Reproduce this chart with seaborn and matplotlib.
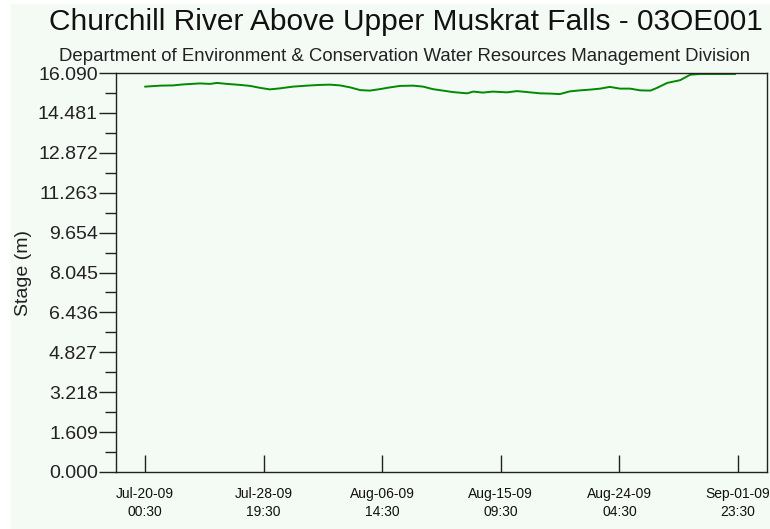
import numpy as np
import pandas as pd
import matplotlib
matplotlib.use("Agg")
import matplotlib.pyplot as plt
import matplotlib.dates as mdates
from matplotlib.patches import Rectangle
from matplotlib.ticker import FixedLocator, FuncFormatter
import seaborn as sns

# stage readings
times = [
    "2009-07-20 00:30", "2009-07-21 03:30", "2009-07-22 02:30", "2009-07-22 20:30",
    "2009-07-24 02:30", "2009-07-24 20:30", "2009-07-25 08:30", "2009-07-26 02:30",
    "2009-07-27 01:30", "2009-07-27 19:30", "2009-07-28 13:30", "2009-07-29 06:30",
    "2009-07-30 00:30", "2009-07-30 23:30", "2009-08-01 00:30", "2009-08-01 23:30",
    "2009-08-02 17:30", "2009-08-03 11:30", "2009-08-04 05:30", "2009-08-04 23:30",
    "2009-08-05 16:30", "2009-08-06 10:30", "2009-08-07 04:30", "2009-08-07 22:30",
    "2009-08-08 21:30", "2009-08-09 15:30", "2009-08-10 08:30", "2009-08-11 02:30",
    "2009-08-11 20:30", "2009-08-12 21:30", "2009-08-13 08:30", "2009-08-14 01:30",
    "2009-08-14 19:30", "2009-08-15 20:30", "2009-08-16 14:30", "2009-08-17 13:30",
    "2009-08-18 07:30", "2009-08-19 01:30", "2009-08-19 18:30", "2009-08-20 12:30",
    "2009-08-21 06:30", "2009-08-22 00:30", "2009-08-22 18:30", "2009-08-23 11:30",
    "2009-08-24 05:30", "2009-08-24 23:30", "2009-08-25 17:30", "2009-08-26 11:30",
    "2009-08-26 23:30", "2009-08-27 17:30", "2009-08-28 16:30", "2009-08-29 10:30",
    "2009-08-30 03:30", "2009-08-31 15:30", "2009-09-01 18:30",
]
stage = [
    15.54, 15.58, 15.59, 15.63, 15.67, 15.65, 15.69, 15.65,
    15.61, 15.57, 15.49, 15.43, 15.47, 15.54, 15.58, 15.61,
    15.62, 15.59, 15.51, 15.40, 15.38, 15.44, 15.51, 15.57,
    15.58, 15.54, 15.44, 15.38, 15.32, 15.27, 15.34, 15.30,
    15.34, 15.31, 15.36, 15.31, 15.27, 15.26, 15.24, 15.35,
    15.39, 15.42, 15.46, 15.53, 15.46, 15.46, 15.39, 15.38,
    15.49, 15.69, 15.80, 16.02, 16.05, 16.05, 16.05,
]
tick_times = ["2009-07-20 00:30", "2009-07-28 19:30", "2009-08-06 14:30",
              "2009-08-15 09:30", "2009-08-24 04:30", "2009-09-01 23:30"]
tick_labels = ["Jul-20-09\n00:30", "Jul-28-09\n19:30", "Aug-06-09\n14:30",
               "Aug-15-09\n09:30", "Aug-24-09\n04:30", "Sep-01-09\n23:30"]
y_step = 1.609
y_max = 16.090

df = pd.DataFrame({"time": pd.to_datetime(times), "stage": stage})
ticks = pd.to_datetime(tick_times)

sns.set_style("ticks")
plt.rcParams["font.family"] = ["Liberation Sans", "DejaVu Sans"]

bg = "#F4FAF4"
fig = plt.figure(figsize=(7.7, 5.29), dpi=100, facecolor="white")
fig.patches.append(Rectangle((11 / 770, 0), 1, 1 - 4 / 529, transform=fig.transFigure,
                             facecolor=bg, edgecolor="none", zorder=-10))
ax = fig.add_axes([116 / 770, 57 / 529, 651 / 770, 399 / 529])
ax.set_facecolor(bg)

sns.lineplot(data=df, x="time", y="stage", ax=ax, color="#008A00", linewidth=1.4)

pad = pd.Timedelta(hours=51.6)
ax.set_xlim(ticks[0] - pad, ticks[-1] + pad)
ax.set_ylim(0, y_max)

ax.set_xticks(ticks)
ax.set_xticklabels(tick_labels, fontsize=10, color="#111111", linespacing=1.35)
ax.tick_params(axis="x", direction="in", length=12, width=1, pad=11, color="#222222")

major = [round(i * y_step, 3) for i in range(11)]
minor = [round((i + 0.5) * y_step, 4) for i in range(10)]
ax.yaxis.set_major_locator(FixedLocator(major))
ax.yaxis.set_minor_locator(FixedLocator(minor))
ax.yaxis.set_major_formatter(FuncFormatter(lambda v, p: f"{v:.3f}"))
ax.tick_params(axis="y", which="major", direction="out", length=12, width=1,
               labelsize=14, pad=1, color="#222222", labelcolor="#222222")
ax.tick_params(axis="y", which="minor", direction="out", length=8, width=1, color="#222222")

for s in ax.spines.values():
    s.set_visible(True)
    s.set_color("#222222")
    s.set_linewidth(1.0)

ax.set_xlabel("")
ax.set_ylabel("Stage (m)", fontsize=14, color="#222222", labelpad=4)
ax.grid(False)

fig.text(406 / 770, 1 - 30 / 529, "Churchill River Above Upper Muskrat Falls - 03OE001",
         ha="center", va="baseline", fontsize=21.5, color="#111111")
fig.text(405 / 770, 1 - 61 / 529,
         "Department of Environment & Conservation Water Resources Management Division",
         ha="center", va="baseline", fontsize=13.4, color="#222222")

fig.savefig("out.png", dpi=100, facecolor=fig.get_facecolor())
